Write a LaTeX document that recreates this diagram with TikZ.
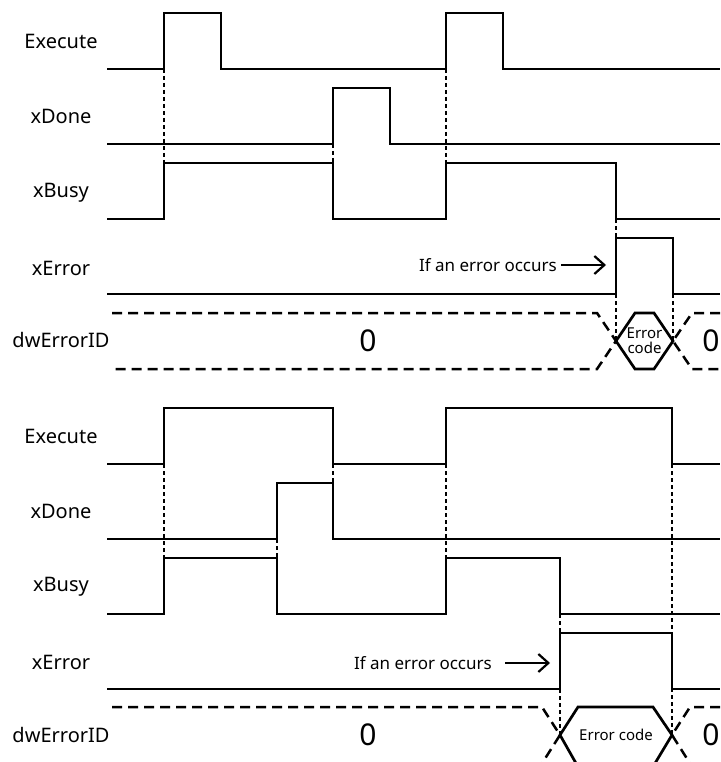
\documentclass[tikz,border=0pt]{standalone}
\usepackage{fontspec}
\setmainfont{Noto Sans}
\usetikzlibrary{arrows.meta}
\begin{document}
\begin{tikzpicture}[x=1pt,y=-1pt,
  sig/.style={line width=2.7pt, line join=miter},
  vdot/.style={line width=2.5pt, dash pattern=on 4pt off 3pt},
  bus/.style={line width=2.5pt, dash pattern=on 10pt off 6pt},
  hexa/.style={line width=2.7pt, line join=miter},
  lbl/.style={font=\fontsize{20}{24}\selectfont, anchor=center, inner sep=0pt},
  zero/.style={font=\fontsize{30}{34}\selectfont, anchor=center, inner sep=0pt},
  note/.style={font=\fontsize{17}{20}\selectfont, anchor=east, inner sep=0pt},
  code/.style={font=\fontsize{15}{17}\selectfont, anchor=center, inner sep=0pt, align=center},
  arr/.style={line width=2.2pt, -{Straight Barb[length=10pt,width=18pt]}}
]
\useasboundingbox (0,0) rectangle (720,762);

% ---------------- top diagram ----------------
\node[lbl] (l1) at (61,41) {Execute};
\node[lbl] (l2) at (61,116) {xDone};
\node[lbl] (l3) at (61,193) {xBusy};
\node[lbl] (l4) at (61,268) {xError};
\node[lbl] (l5) at (61,340) {dwErrorID};

\draw[sig] (107,69) -- (164,69) -- (164,13) -- (221,13) -- (221,69) -- (446,69) -- (446,13) -- (503,13) -- (503,69) -- (720,69);
\draw[sig] (107,144) -- (333,144) -- (333,88) -- (390,88) -- (390,144) -- (720,144);
\draw[sig] (107,219) -- (164,219) -- (164,163) -- (333,163) -- (333,219) -- (446,219) -- (446,163) -- (616,163) -- (616,219) -- (720,219);
\draw[sig] (107,294) -- (616,294) -- (616,238) -- (673,238) -- (673,294) -- (720,294);

\draw[bus] (112,313) -- (597,313) -- (616,341) -- (597,369) -- (112,369);
\draw[hexa] (616,341) -- (635,313) -- (654,313) -- (673,341) -- (654,369) -- (635,369) -- cycle;
\draw[bus] (720,313) -- (692,313) -- (673,341) -- (692,369) -- (720,369);
\node[zero] (z1) at (368,341) {0};
\node[zero] (z2) at (711,341) {0};
\node[code] (c1) at (644.5,341) {Error\\[-2pt]code};

\draw[vdot] (164,69) -- (164,163);
\draw[vdot] (333,144) -- (333,163);
\draw[vdot] (446,69) -- (446,163);
\draw[vdot] (616,219) -- (616,238);
\draw[vdot] (616,294) -- (616,341);
\draw[vdot] (673,294) -- (673,341);

\node[note] (e1) at (557,265) {If an error occurs};
\coordinate (a1) at (606,265);
\draw[arr] ([xshift=4pt]e1.east) -- (a1);

% ---------------- bottom diagram ----------------
\node[lbl] (m1) at (61,436) {Execute};
\node[lbl] (m2) at (61,511) {xDone};
\node[lbl] (m3) at (61,587) {xBusy};
\node[lbl] (m4) at (61,662) {xError};
\node[lbl] (m5) at (61,735) {dwErrorID};

\draw[sig] (107,464) -- (164,464) -- (164,408) -- (333,408) -- (333,464) -- (446,464) -- (446,408) -- (672,408) -- (672,464) -- (720,464);
\draw[sig] (107,539) -- (277,539) -- (277,483) -- (333,483) -- (333,539) -- (720,539);
\draw[sig] (107,614) -- (164,614) -- (164,558) -- (277,558) -- (277,614) -- (446,614) -- (446,558) -- (560,558) -- (560,614) -- (720,614);
\draw[sig] (107,689) -- (560,689) -- (560,633) -- (672,633) -- (672,689) -- (720,689);

\draw[bus] (112,707) -- (542,707) -- (560,735) -- (541,765) -- (112,765);
\draw[hexa] (560,735) -- (578,707) -- (653,707) -- (672,735) -- (654,765) -- (577,765) -- cycle;
\draw[bus] (720,707) -- (690,707) -- (672,735) -- (691,765) -- (720,765);
\node[zero] (z3) at (368,735) {0};
\node[zero] (z4) at (711,735) {0};
\node[code] (c2) at (616,735) {Error code};

\draw[vdot] (164,464) -- (164,558);
\draw[vdot] (333,464) -- (333,539);
\draw[vdot] (277,539) -- (277,558);
\draw[vdot] (446,464) -- (446,558);
\draw[vdot] (560,614) -- (560,633);
\draw[vdot] (560,689) -- (560,735);
\draw[vdot] (672,464) -- (672,735);

\node[note] (e2) at (492,663) {If an error occurs};
\coordinate (a2) at (550,663);
\draw[arr] ([xshift=13pt]e2.east) -- (a2);
\end{tikzpicture}
\end{document}
